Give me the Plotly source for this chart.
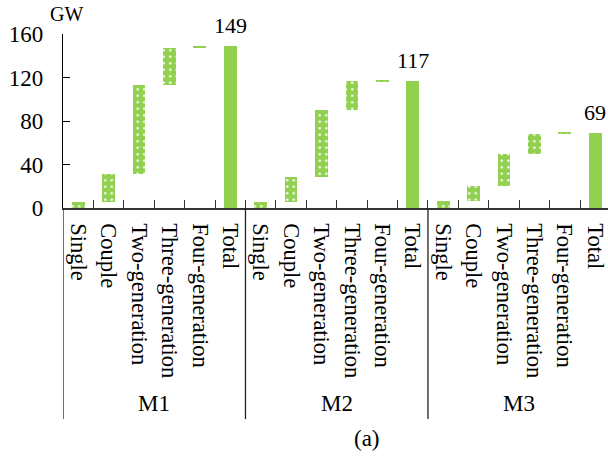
import plotly.graph_objects as go

# Household-type contributions (GW) for each scenario, plus scenario totals
groups = ["M1", "M2", "M3"]
categories = ["Single", "Couple", "Two-generation", "Three-generation", "Four-generation", "Total"]
m1_steps = [5.1, 25.8, 82.2, 34.3, 1.6]
m2_steps = [5.5, 23.0, 61.3, 26.7, 0.5]
m3_steps = [6.2, 14.4, 28.8, 19.0, 0.6]
totals = [149, 117, 69]
y_ticks = [0, 40, 80, 120, 160]

GREEN = "#92D050"
FONT = "'Liberation Serif', 'Times New Roman', Times, serif"
n_cat = len(categories)

step_x, step_base, step_h = [], [], []
total_x = []
for g, steps in enumerate([m1_steps, m2_steps, m3_steps]):
    running = 0.0
    for i, v in enumerate(steps):
        step_x.append(g * n_cat + i)
        step_base.append(running)
        step_h.append(v)
        running += v
    total_x.append(g * n_cat + n_cat - 1)

fig = go.Figure()
fig.add_trace(go.Bar(
    x=step_x, y=step_h, base=step_base, width=0.42,
    marker=dict(color=GREEN, line=dict(width=0),
                pattern=dict(shape=".", fgcolor="white", bgcolor=GREEN,
                             size=6.5, solidity=0.12, fillmode="replace")),
    showlegend=False, hoverinfo="skip",
))
fig.add_trace(go.Bar(
    x=total_x, y=totals, width=0.42,
    marker=dict(color=GREEN, line=dict(width=0)),
    showlegend=False, hoverinfo="skip",
))

n_all = n_cat * len(groups)
boundaries = [k - 0.5 for k in range(1, n_all + 1)]

fig.update_layout(
    width=608, height=459,
    margin=dict(l=63, r=0, t=34, b=251),
    plot_bgcolor="white", paper_bgcolor="white",
    font=dict(family=FONT, color="black", size=23),
    bargap=0,
    xaxis=dict(
        range=[-0.5, 17.42],
        tickmode="array", tickvals=list(range(n_all)), ticktext=categories * len(groups),
        tickangle=90, ticks="", showgrid=False, zeroline=False,
        showline=True, linecolor="#333333", linewidth=1.5,
        tickfont=dict(family=FONT, size=22.5, color="black"),
        ticklabelstandoff=9,
        minor=dict(tickmode="array", tickvals=boundaries, ticks="inside",
                   ticklen=8, tickcolor="#333333", tickwidth=1.3, showgrid=False),
    ),
    yaxis=dict(
        range=[0, 160], tickmode="array", tickvals=y_ticks,
        ticks="inside", ticklen=7, tickcolor="black", tickwidth=1.3,
        showline=True, linecolor="black", linewidth=1.3,
        showgrid=False, zeroline=False,
        tickfont=dict(family=FONT, size=23, color="black"),
        ticklabelstandoff=14,
    ),
)

annotations = [
    dict(text="GW", x=-0.4, y=1.115, xref="x", yref="paper",
         showarrow=False, font=dict(family=FONT, size=20), xanchor="center", yanchor="middle"),
    dict(text="(a)", x=9.49, y=-1.322, xref="x", yref="paper",
         showarrow=False, font=dict(family=FONT, size=23), xanchor="center", yanchor="middle"),
]
for g, tot in enumerate(totals):
    annotations.append(dict(text=str(tot), x=total_x[g], y=tot, xref="x", yref="y",
                            showarrow=False, font=dict(family=FONT, size=22),
                            xanchor="center", yanchor="bottom", yshift=6))
    annotations.append(dict(text=groups[g], x=g * n_cat + (n_cat - 1) / 2, y=-1.121,
                            xref="x", yref="paper", showarrow=False,
                            font=dict(family=FONT, size=23), xanchor="center", yanchor="middle"))
fig.update_layout(annotations=annotations)

# Group dividers running down through the category labels
for g in range(len(groups)):
    fig.add_shape(type="line", xref="x", yref="paper",
                  x0=g * n_cat - 0.5, x1=g * n_cat - 0.5, y0=0, y1=-1.213,
                  line=dict(color="#222222", width=1.3))

fig.write_html("out.html")
